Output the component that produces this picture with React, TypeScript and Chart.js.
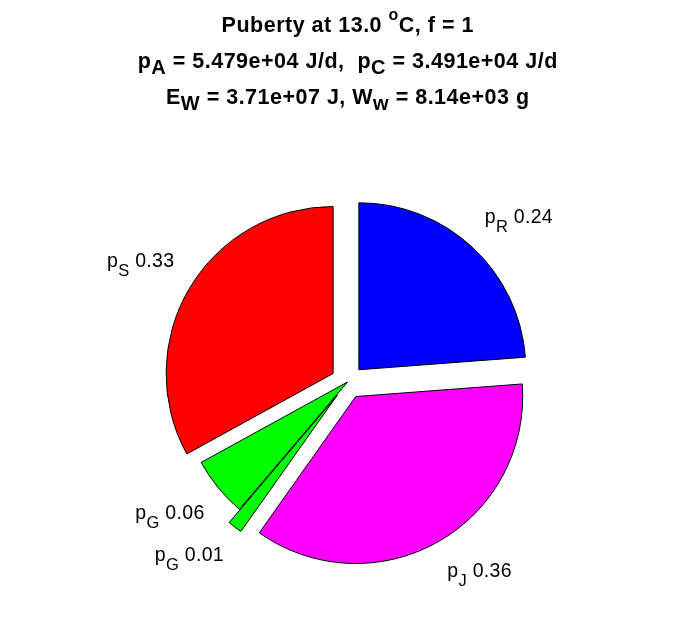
import React, { useEffect, useRef } from "react";
import { Chart, registerables } from "chart.js";

Chart.register(...registerables);

// ---- data ----
const categories = ["R", "J", "G", "G", "S"]; // subscript of "p" in each label
const shares = [0.238, 0.36, 0.014, 0.058, 0.33];
const sliceColors = ["#0000ff", "#ff00ff", "#00ff00", "#00ff00", "#ff0000"];
const explode = [1, 1, 1, 0, 1];

type Seg = { t: string; k?: "sub" | "sup" };
const titleLine1: Seg[] = [{ t: "Puberty at 13.0 " }, { t: "o", k: "sup" }, { t: "C, f = 1" }];
const titleLine2: Seg[] = [
  { t: "p" }, { t: "A", k: "sub" }, { t: " = 5.479e+04 J/d,  p" }, { t: "C", k: "sub" }, { t: " = 3.491e+04 J/d" },
];
const titleLine3: Seg[] = [
  { t: "E" }, { t: "W", k: "sub" }, { t: " = 3.71e+07 J, W" }, { t: "w", k: "sub" }, { t: " = 8.14e+03 g" },
];

const FAMILY = "'Liberation Sans', Arial, Helvetica, sans-serif";

type RichFont = { main: string; sub: string; sup: string; subDy: number; supDy: number; spacing: number };

const titleFont: RichFont = {
  main: `bold 21.5px ${FAMILY}`,
  sub: `bold 20px ${FAMILY}`,
  sup: `bold 16px ${FAMILY}`,
  subDy: 6,
  supDy: 12,
  spacing: 0.5,
};
const labelFont: RichFont = {
  main: `19.5px ${FAMILY}`,
  sub: `16.5px ${FAMILY}`,
  sup: `13px ${FAMILY}`,
  subDy: 9,
  supDy: 8,
  spacing: 0.3,
};

function drawRich(
  ctx: CanvasRenderingContext2D,
  segs: Seg[],
  x: number,
  y: number,
  align: "left" | "center" | "right",
  f: RichFont
) {
  const fontOf = (k?: string) => (k === "sub" ? f.sub : k === "sup" ? f.sup : f.main);
  ctx.save();
  const widthOf = (s: Seg) => {
    ctx.font = fontOf(s.k);
    return ctx.measureText(s.t).width + f.spacing * Array.from(s.t).length;
  };
  let w = 0;
  for (const s of segs) w += widthOf(s);
  w -= f.spacing;
  let cx = align === "left" ? x : align === "right" ? x - w : x - w / 2;
  ctx.textAlign = "left";
  ctx.textBaseline = "alphabetic";
  ctx.fillStyle = "#000";
  for (const s of segs) {
    ctx.font = fontOf(s.k);
    const dy = s.k === "sub" ? f.subDy : s.k === "sup" ? -f.supDy : 0;
    for (const ch of Array.from(s.t)) {
      ctx.fillText(ch, cx, y + dy);
      cx += ctx.measureText(ch).width + f.spacing;
    }
  }
  ctx.restore();
}

const explodePlugin = {
  id: "explodeSlices",
  beforeDatasetsDraw(chart: any) {
    const ctx = chart.ctx as CanvasRenderingContext2D;
    const meta = chart.getDatasetMeta(0);
    meta.data.forEach((arc: any, i: number) => {
      const { startAngle, endAngle, outerRadius } = arc.getProps(["startAngle", "endAngle", "outerRadius"], true);
      const mid = (startAngle + endAngle) / 2;
      const d = explode[i] * 0.1 * outerRadius;
      ctx.save();
      ctx.translate(Math.cos(mid) * d, Math.sin(mid) * d);
      arc.draw(ctx, chart.chartArea);
      ctx.restore();
    });
    return false;
  },
  afterDraw(chart: any) {
    const ctx = chart.ctx as CanvasRenderingContext2D;
    const meta = chart.getDatasetMeta(0);
    meta.data.forEach((arc: any, i: number) => {
      const { x, y, startAngle, endAngle, outerRadius } = arc.getProps(
        ["x", "y", "startAngle", "endAngle", "outerRadius"],
        true
      );
      const mid = (startAngle + endAngle) / 2;
      const dist = 1.1 * outerRadius + explode[i] * 0.1 * outerRadius;
      const ax = x + Math.cos(mid) * dist;
      const ay = y + Math.sin(mid) * dist;
      const right = Math.cos(mid) >= 0;
      const below = Math.sin(mid) > 0;
      const baseline = below ? ay + 21 : ay - 12.5;
      const tx = right ? ax + 1 : ax - 1;
      drawRich(
        ctx,
        [{ t: "p" }, { t: categories[i], k: "sub" }, { t: " " + shares[i].toFixed(2) }],
        tx,
        baseline,
        right ? "left" : "right",
        labelFont
      );
    });
    const cx = (chart.chartArea.left + chart.chartArea.right) / 2;
    drawRich(ctx, titleLine1, cx, 31.7, "center", titleFont);
    drawRich(ctx, titleLine2, cx, 68.3, "center", titleFont);
    drawRich(ctx, titleLine3, cx, 104.3, "center", titleFont);
  },
};

export default function App() {
  const ref = useRef<HTMLCanvasElement | null>(null);
  useEffect(() => {
    if (!ref.current) return;
    const chart = new Chart(ref.current, {
      type: "pie",
      data: {
        labels: categories.map((c) => "p" + c),
        datasets: [
          {
            data: shares,
            backgroundColor: sliceColors,
            borderColor: "#000",
            borderWidth: 1,
            radius: 167,
          } as any,
        ],
      },
      options: {
        responsive: false,
        animation: false,
        layout: { padding: { left: 0, right: 1, top: 146, bottom: 0 } },
        plugins: {
          legend: { display: false },
          tooltip: { enabled: false },
          title: { display: false },
        },
        events: [],
      },
      plugins: [explodePlugin],
    });
    return () => chart.destroy();
  }, []);
  return (
    <div style={{ position: "absolute", left: 0, top: 0, width: 696, height: 618, background: "#fff" }}>
      <canvas ref={ref} width={696} height={618} style={{ display: "block" }} />
    </div>
  );
}
